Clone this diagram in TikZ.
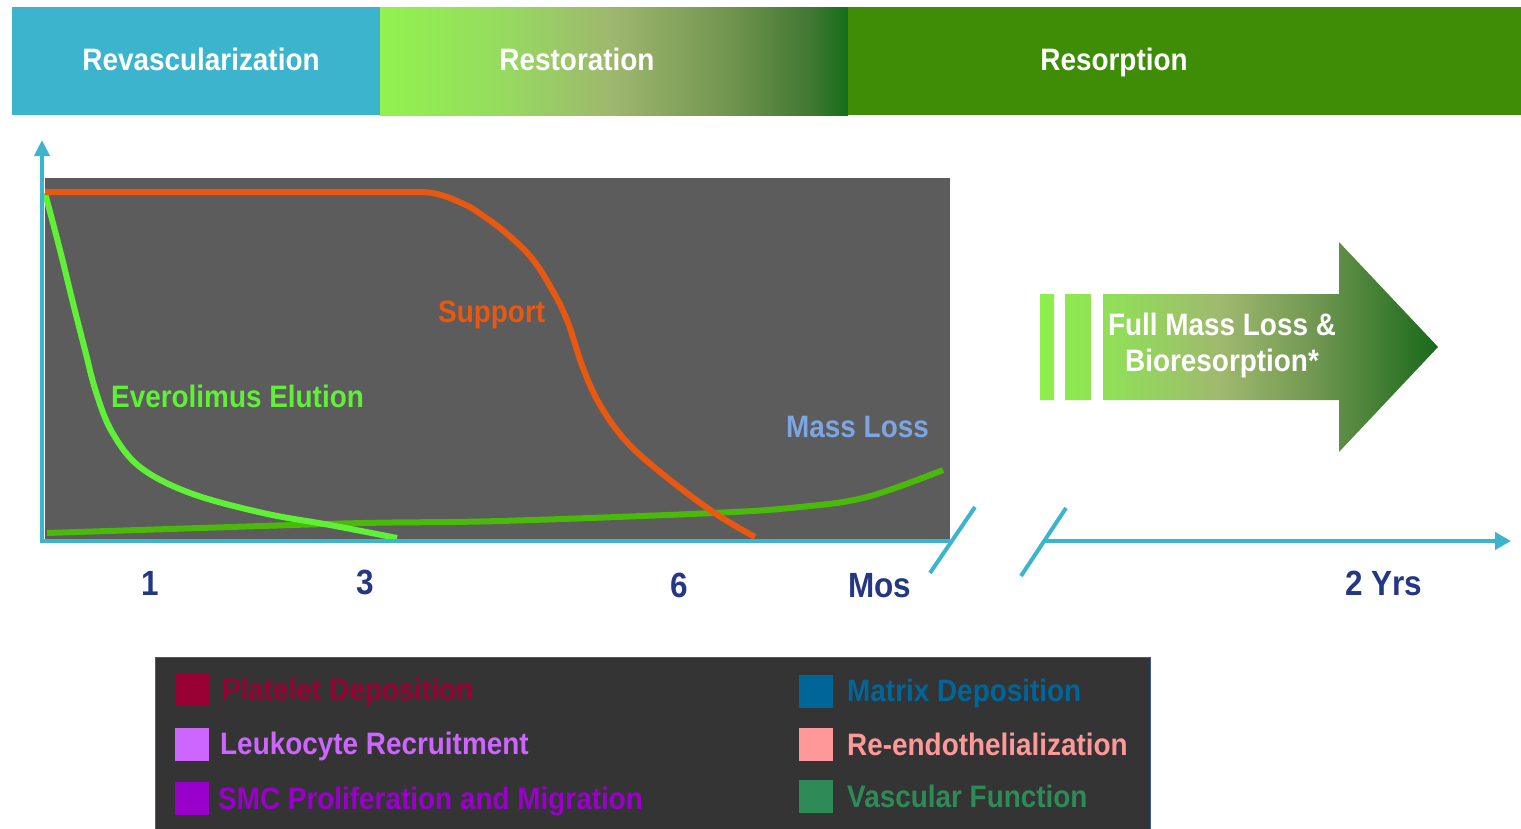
\documentclass[tikz,border=0pt]{standalone}
\usepackage{fontspec}
\newfontfamily\lsans{Liberation Sans}[FakeStretch=0.9]
\usetikzlibrary{arrows.meta}
\definecolor{axisblue}{RGB}{60,180,205}
\definecolor{revblue}{RGB}{61,180,206}
\definecolor{resgreen}{RGB}{63,140,7}
\definecolor{chartbg}{RGB}{92,92,92}
\definecolor{legbg}{RGB}{52,52,52}
\definecolor{legborder}{RGB}{60,90,160}
\definecolor{supportc}{RGB}{232,88,16}
\definecolor{elutionc}{RGB}{95,240,55}
\definecolor{masslossc}{RGB}{75,185,10}
\definecolor{masslabel}{RGB}{125,165,225}
\definecolor{navy}{RGB}{35,55,130}
\definecolor{cPlatelet}{RGB}{153,0,51}
\definecolor{cLeuko}{RGB}{204,102,255}
\definecolor{cSMC}{RGB}{153,0,204}
\definecolor{cMatrix}{RGB}{0,102,153}
\definecolor{cReendo}{RGB}{255,153,153}
\definecolor{cVasc}{RGB}{46,139,87}
\pgfdeclarehorizontalshading{restshade}{100bp}{
  rgb(0bp)=(0.569,0.949,0.306);
  rgb(25bp)=(0.569,0.949,0.306);
  rgb(37.5bp)=(0.588,0.863,0.373);
  rgb(50bp)=(0.620,0.714,0.431);
  rgb(62.5bp)=(0.439,0.580,0.306);
  rgb(71bp)=(0.255,0.470,0.196);
  rgb(75bp)=(0.078,0.431,0.098);
  rgb(100bp)=(0.078,0.431,0.098)}
\pgfdeclarehorizontalshading{arrowshade}{100bp}{
  rgb(0bp)=(0.549,0.941,0.294);
  rgb(25bp)=(0.549,0.941,0.294);
  rgb(35bp)=(0.569,0.863,0.353);
  rgb(47.5bp)=(0.627,0.725,0.431);
  rgb(60bp)=(0.431,0.588,0.314);
  rgb(75bp)=(0.098,0.412,0.098);
  rgb(100bp)=(0.098,0.412,0.098)}
\tikzset{
  hdr/.style={text=white, font=\lsans\bfseries\fontsize{31}{31}\selectfont, anchor=base, inner sep=0pt},
  curvelabel/.style={font=\lsans\bfseries\fontsize{31}{31}\selectfont, anchor=base west, inner sep=0pt},
  ticklabel/.style={text=navy, font=\lsans\bfseries\fontsize{35}{35}\selectfont, anchor=base, inner sep=0pt},
  legtext/.style={font=\lsans\bfseries\fontsize{31}{31}\selectfont, anchor=base west, inner sep=0pt},
  legsq/.style={minimum width=34pt, minimum height=33pt, inner sep=0pt, anchor=north west},
  axisline/.style={draw=axisblue, line width=4pt},
  curve/.style={line width=6pt, line cap=butt, line join=round},
}
\begin{document}
\begin{tikzpicture}[x=1pt,y=-1pt]
\useasboundingbox (0,0) rectangle (1521,828);
% header band
\fill[revblue] (12,7) rectangle (380,115);
\shade[shading=restshade] (380,7) rectangle (848,115);
\fill[resgreen] (848,7) rectangle (1521,115);
\node[hdr] (revas) at (201,70) {Revascularization};
\node[hdr] (resto) at (577,70) {Restoration};
\node[hdr] (resorp) at (1114,70) {Resorption};
% chart area
\fill[chartbg] (45,178) rectangle (950,540);
% curves
\draw[curve, masslossc] plot[smooth, tension=0.6] coordinates {(47,533) (200,528) (363,523) (500,521) (713,513) (800,507) (867,497) (943,470)};
\draw[curve, elutionc] plot[smooth, tension=0.6] coordinates {(45,193) (60,250) (73,303) (85,350) (96,392) (112,432) (140,467) (190,493) (263,513) (330,525) (397,538)};
\draw[curve, supportc] (45,192) -- (420,192) .. controls (440,192) and (455,200) .. (470,207)
  plot[smooth, tension=0.6] coordinates {(470,207) (500,228) (530,256) (550,286) (567,320) (583,368) (600,405) (625,440) (660,472) (713,512) (755,537)};
\node[curvelabel, text=supportc] (support) at (438,322) {Support};
\node[curvelabel, text=elutionc] (elution) at (111,407) {Everolimus Elution};
\node[curvelabel, text=masslabel] (massloss) at (786,437) {Mass Loss};
% axes
\coordinate (origin) at (42,541);
\coordinate (ytop) at (42,140);
\coordinate (xend) at (950,541);
\coordinate (brkAa) at (930,573);
\coordinate (brkAb) at (975,507);
\coordinate (brkBa) at (1021,576);
\coordinate (brkBb) at (1066,508);
\coordinate (xstart2) at (1044,541);
\coordinate (xtip) at (1511,541);
\draw[axisline, -{Triangle[length=16pt,width=15pt]}] ([yshift=2pt]origin) -- (ytop);
\draw[axisline] ([xshift=-2pt]origin) -- (xend);
\draw[axisline] (brkAa) -- (brkAb);
\draw[axisline] (brkBa) -- (brkBb);
\draw[axisline, -{Triangle[length=16pt,width=17pt]}] (xstart2) -- (xtip);
% tick labels
\node[ticklabel] (t1) at (150,595) {1};
\node[ticklabel] (t3) at (365,594) {3};
\node[ticklabel] (t6) at (679,597) {6};
\node[ticklabel] (tmos) at (880,597) {Mos};
\node[ticklabel] (tyrs) at (1384,595) {2 Yrs};
% big arrow
\shade[shading=arrowshade]
  (1040,294) rectangle (1054,400)
  (1065,294) rectangle (1091,400)
  (1103,294) -- (1339,294) -- (1339,242) -- (1438,347) -- (1339,452) -- (1339,400) -- (1103,400) -- cycle;
\node[text=white, font=\lsans\bfseries\fontsize{31}{36}\selectfont, align=center, inner sep=0pt] (fullmass) at (1222,345) {Full Mass Loss \&\\Bioresorption*};
% legend
\filldraw[fill=legbg, draw=legborder, line width=1pt] (155,657) rectangle (1150,835);
\node[legsq, fill=cPlatelet] (sqA) at (175,673) {};
\node[legsq, fill=cLeuko] (sqB) at (175,728) {};
\node[legsq, fill=cSMC] (sqC) at (175,782) {};
\node[legsq, fill=cMatrix] (sqD) at (799,675) {};
\node[legsq, fill=cReendo] (sqE) at (799,728) {};
\node[legsq, fill=cVasc] (sqF) at (799,780) {};
\node[legtext, text=cPlatelet] (lgA) at (222,700) {Platelet Deposition};
\node[legtext, text=cLeuko] (lgB) at (220,754) {Leukocyte Recruitment};
\node[legtext, text=cSMC] (lgC) at (218,809) {SMC Proliferation and Migration};
\node[legtext, text=cMatrix] (lgD) at (847,701) {Matrix Deposition};
\node[legtext, text=cReendo] (lgE) at (847,755) {Re-endothelialization};
\node[legtext, text=cVasc] (lgF) at (847,807) {Vascular Function};
\end{tikzpicture}
\end{document}
